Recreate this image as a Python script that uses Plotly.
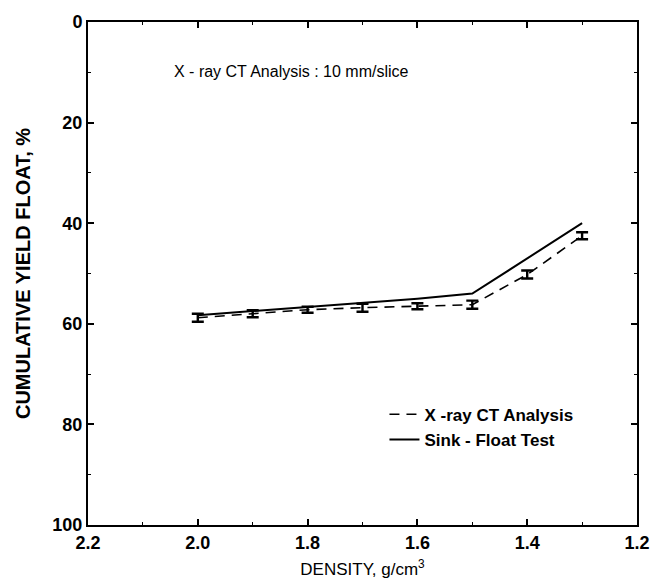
import plotly.graph_objects as go

density_sf = [2.0, 1.9, 1.8, 1.7, 1.6, 1.5, 1.3]
yield_sf = [58.3, 57.5, 56.6, 55.8, 55.0, 54.0, 40.0]

density_ct = [2.0, 1.9, 1.8, 1.7, 1.6, 1.5, 1.4, 1.3]
yield_ct = [58.8, 58.0, 57.2, 56.8, 56.5, 56.2, 50.2, 42.5]
err_ct = [0.8, 0.7, 0.6, 0.8, 0.6, 0.8, 0.8, 0.7]

x_ticks = [2.2, 2.0, 1.8, 1.6, 1.4, 1.2]
y_ticks = [0, 20, 40, 60, 80, 100]

font = "Liberation Sans, Arial, sans-serif"

fig = go.Figure()
fig.add_trace(go.Scatter(
    x=density_ct, y=yield_ct, mode="lines", name="X -ray CT Analysis",
    line=dict(color="black", width=1.6, dash="10px,7px"),
    error_y=dict(type="data", array=err_ct, visible=True, color="black",
                 thickness=2.4, width=6),
))
fig.add_trace(go.Scatter(
    x=density_sf, y=yield_sf, mode="lines", name="Sink - Float Test",
    line=dict(color="black", width=2),
))

fig.add_annotation(x=1.829, y=9.8, xref="x", yref="y",
                   text="X - ray CT Analysis : 10 mm/slice", showarrow=False,
                   font=dict(family=font, size=16, color="black"))

axis_common = dict(
    showgrid=False, zeroline=False, showline=True, linecolor="black",
    linewidth=2, mirror="ticks", ticks="inside", ticklen=6, tickwidth=1.5,
    tickcolor="black",
    tickfont=dict(family=font, size=18, color="black", weight="bold"),
)

fig.update_xaxes(
    range=[2.2, 1.2], tickvals=x_ticks, ticktext=[f"{v:.1f}" for v in x_ticks],
    minor=dict(dtick=0.1, ticks="inside", ticklen=3, tickcolor="black", tickwidth=1.2),
    title=dict(text="DENSITY, g/cm<sup>3</sup>",
               font=dict(family=font, size=17, color="black"),
               standoff=12),
    **axis_common,
)
fig.update_yaxes(
    range=[100, 0], tickvals=y_ticks, ticktext=[str(v) for v in y_ticks],
    minor=dict(dtick=10, ticks="inside", ticklen=3, tickcolor="black", tickwidth=1.2),
    title=dict(text="CUMULATIVE YIELD FLOAT, %",
               font=dict(family=font, size=20, color="black", weight="bold"),
               standoff=16),
    **axis_common,
)

fig.update_layout(
    width=662, height=588,
    margin=dict(l=88, r=17, t=19, b=61),
    paper_bgcolor="white", plot_bgcolor="white",
    showlegend=True,
    legend=dict(x=0.54, y=0.255, xanchor="left", yanchor="top",
                bgcolor="rgba(0,0,0,0)",
                font=dict(family=font, size=17, color="black", weight="bold"),
                tracegroupgap=0, itemwidth=30),
)

fig.write_html("out.html")
